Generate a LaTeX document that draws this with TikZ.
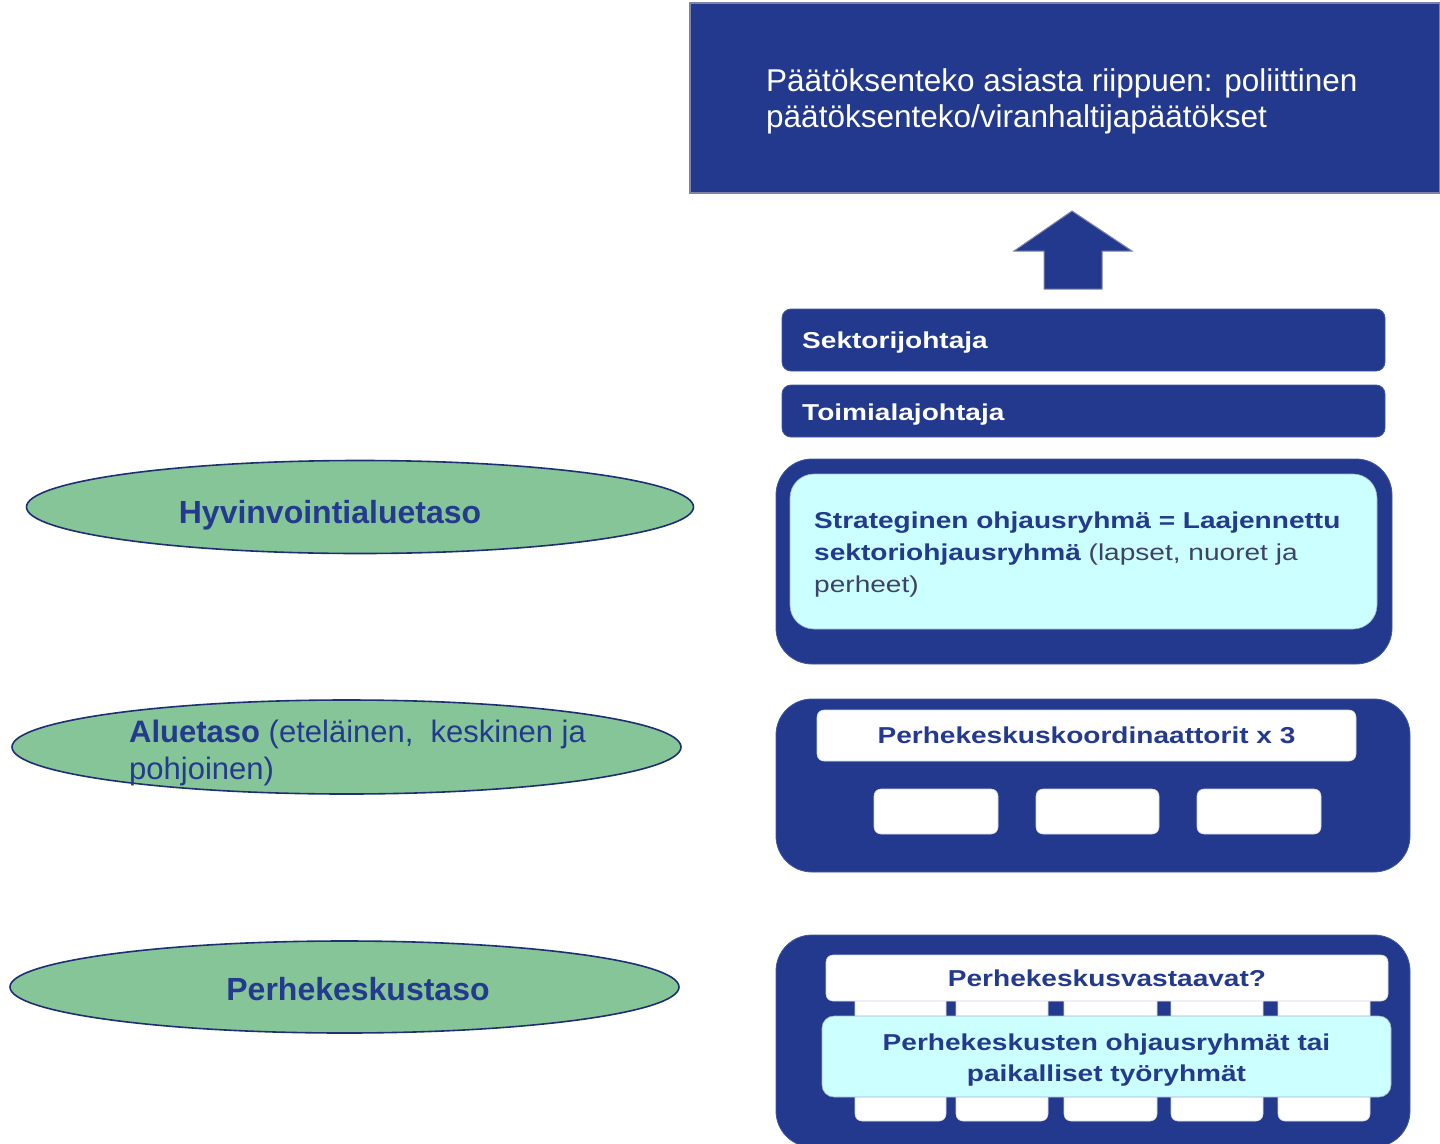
\documentclass[tikz,border=0pt]{standalone}
\usepackage{fontspec}
\setmainfont{Liberation Sans}
\newfontfamily\widefont[FakeStretch=1.22]{Liberation Sans}
\usetikzlibrary{shapes.geometric}
\definecolor{navy}{HTML}{22398D}
\definecolor{navyline}{HTML}{7D84A8}
\definecolor{cyanbox}{HTML}{CCFFFF}
\definecolor{greenell}{HTML}{86C598}
\definecolor{ellline}{HTML}{1E2F73}
\definecolor{txtblue}{HTML}{233A8E}
\definecolor{txtgray}{HTML}{3C4268}
\tikzset{
  box/.style={anchor=north west, inner sep=0pt, outer sep=0pt},
  navybox/.style={box, fill=navy, draw=navy!85!white, line width=0.8pt},
  whitebox/.style={box, fill=white, draw=white!80!navy, line width=0.6pt, rounded corners=7pt},
  cybox/.style={box, fill=cyanbox, draw=white!60!navy, line width=0.6pt},
  ellnode/.style={ellipse, fill=greenell, draw=ellline, line width=1.6pt, inner sep=0pt},
  elltext/.style={inner sep=0pt, text=txtblue, font=\fontsize{32}{38}\selectfont\bfseries},
  toptext/.style={anchor=base west, inner sep=0pt, text=white, font=\fontsize{31.5}{38}\selectfont},
  wtext/.style={inner sep=0pt, text=white, font=\widefont\fontsize{23}{30}\selectfont\bfseries},
  btext/.style={inner sep=0pt, text=txtblue, font=\widefont\fontsize{23}{31}\selectfont\bfseries},
}
\begin{document}
\begin{tikzpicture}[x=1pt,y=-1pt]
\useasboundingbox (0,0) rectangle (1440,1143);

% top decision box
\node[box, fill=navy, draw=navyline, line width=1.5pt, minimum width=750pt, minimum height=190pt] (top) at (690,3) {};
\node[toptext] (tl1) at (766,91) {Päätöksenteko asiasta riippuen: poliittinen};
\node[toptext] (tl2) at (766,127) {päätöksenteko/viranhaltijapäätökset};

% block arrow
\draw[fill=navy, draw=navyline, line width=1pt]
  (1072,211) -- (1132,251) -- (1102,251) -- (1102,289) -- (1044,289) -- (1044,251) -- (1014,251) -- cycle;

% leaders
\node[navybox, rounded corners=9pt, minimum width=603pt, minimum height=62pt] (sek) at (782,309) {};
\node[wtext, anchor=base west] (sekt) at (802,348) {Sektorijohtaja};
\node[navybox, rounded corners=9pt, minimum width=603pt, minimum height=52pt] (toi) at (782,385) {};
\node[wtext, anchor=base west] (toit) at (802,420) {Toimialajohtaja};

% strategic group
\node[navybox, rounded corners=36pt, minimum width=616pt, minimum height=205pt] (strat) at (776,459) {};
\node[cybox, rounded corners=24pt, minimum width=587pt, minimum height=155pt] (stratin) at (790,474) {};
\node[btext, anchor=base west] (s1) at (814,528) {Strateginen ohjausryhmä = Laajennettu};
\node[btext, anchor=base west] (s2) at (814,560) {sektoriohjausryhmä \textcolor{txtgray}{\mdseries (lapset, nuoret ja}};
\node[btext, anchor=base west, text=txtgray] (s3) at (814,592) {\mdseries perheet)};

% area level group
\node[navybox, rounded corners=36pt, minimum width=634pt, minimum height=173pt] (alue) at (776,699) {};
\node[whitebox, minimum width=539pt, minimum height=51pt] (koord) at (817,710) {};
\node[btext] (koordt) at (koord.center) {Perhekeskuskoordinaattorit x 3};
\node[whitebox, minimum width=124pt, minimum height=45pt] (k1) at (874,789) {};
\node[whitebox, minimum width=123pt, minimum height=45pt] (k2) at (1036,789) {};
\node[whitebox, minimum width=124pt, minimum height=45pt] (k3) at (1197,789) {};

% family centre group
\node[navybox, rounded corners=36pt, minimum width=634pt, minimum height=212pt] (perhe) at (776,935) {};
\node[whitebox, minimum width=91pt, minimum height=131pt] (c1) at (855,990) {};
\node[whitebox, minimum width=92pt, minimum height=131pt] (c2) at (956,990) {};
\node[whitebox, minimum width=93pt, minimum height=131pt] (c3) at (1064,990) {};
\node[whitebox, minimum width=92pt, minimum height=131pt] (c4) at (1171,990) {};
\node[whitebox, minimum width=92pt, minimum height=131pt] (c5) at (1278,990) {};
\node[whitebox, minimum width=562pt, minimum height=46pt] (vast) at (826,955) {};
\node[btext] (vastt) at (vast.center) {Perhekeskusvastaavat?};
\node[cybox, rounded corners=12pt, minimum width=569pt, minimum height=81pt] (ohj) at (822,1016) {};
\node[btext, anchor=base] (o1) at (1106.5,1050) {Perhekeskusten ohjausryhmät tai};
\node[btext, anchor=base] (o2) at (1106.5,1081) {paikalliset työryhmät};

% left ellipses
\node[ellnode, minimum width=667pt, minimum height=93pt] (e1) at (360,507) {};
\node[elltext, anchor=base] (e1t) at (330,523) {Hyvinvointialuetaso};
\node[ellnode, minimum width=669pt, minimum height=94pt] (e2) at (346.5,747) {};
\node[inner sep=0pt, text=txtblue, font=\fontsize{31}{38}\selectfont, anchor=base west] (e2a) at (129,742) {\textbf{Aluetaso} (eteläinen,\ \ keskinen ja};
\node[inner sep=0pt, text=txtblue, font=\fontsize{31}{38}\selectfont, anchor=base west] (e2b) at (129,779) {pohjoinen)};
\node[ellnode, minimum width=669pt, minimum height=92pt] (e3) at (344.5,987) {};
\node[elltext, anchor=base] (e3t) at (358,1000) {Perhekeskustaso};
\end{tikzpicture}
\end{document}
